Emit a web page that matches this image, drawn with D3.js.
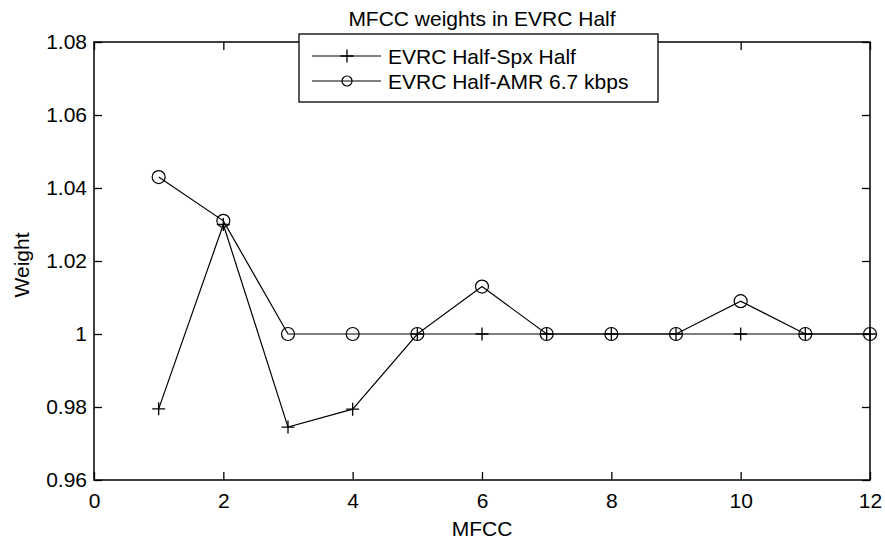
<!DOCTYPE html>
<html><head><meta charset="utf-8">
<script src="https://cdn.jsdelivr.net/npm/d3@7"></script>
<style>body{margin:0;background:#fff}svg{display:block}text{font-family:"Liberation Sans",Arial,sans-serif;fill:#000}</style>
</head><body><svg id="c" width="885" height="542"></svg>
<script>
const mfcc = [1,2,3,4,5,6,7,8,9,10,11,12];
const spxHalf = [0.9795,1.030,0.9745,0.9794,1,1,1,1,1,1,1,1];
const amr67 = [1.043,1.031,1,1,1,1.013,1,1,1,1.009,1,1];
const seriesNames = ["EVRC Half-Spx Half","EVRC Half-AMR 6.7 kbps"];
const xTicks = [0,2,4,6,8,10,12];
const yTicks = [0.96,0.98,1,1.02,1.04,1.06,1.08];
const title = "MFCC weights in EVRC Half";

const svg = d3.select("#c");
const L=94,R=870,T=42,B=480;
const x = d3.scaleLinear().domain([0,12]).range([L,R]);
const y = d3.scaleLinear().domain([0.96,1.08]).range([B,T]);
const fs = 21;

svg.append("rect").attr("x",L).attr("y",T).attr("width",R-L).attr("height",B-T)
 .attr("fill","none").attr("stroke","#000").attr("stroke-width",1.5);

const tl=8;
const axB = svg.append("g").attr("transform",`translate(0,${B})`).call(d3.axisBottom(x).tickValues(xTicks).tickSize(-tl).tickPadding(13).tickFormat(d3.format("d")));
const axT = svg.append("g").attr("transform",`translate(0,${T})`).call(d3.axisTop(x).tickValues(xTicks).tickSize(-tl).tickFormat(""));
const fmtY = d=> String(+d.toFixed(2));
const ayL = svg.append("g").attr("transform",`translate(${L},0)`).call(d3.axisLeft(y).tickValues(yTicks).tickSize(-tl).tickPadding(7).tickFormat(fmtY));
const ayR = svg.append("g").attr("transform",`translate(${R},0)`).call(d3.axisRight(y).tickValues(yTicks).tickSize(-tl).tickFormat(""));
[axB,axT,ayL,ayR].forEach(a=>{
  a.select(".domain").remove();
  a.selectAll("line").attr("stroke","#000").attr("stroke-width",1.3);
  a.selectAll("text").attr("font-size",fs).attr("font-family","Liberation Sans, Arial, sans-serif").attr("fill","#000");
});

const line = d3.line().x((d,i)=>x(mfcc[i])).y(d=>y(d));
svg.append("path").datum(spxHalf).attr("d",line).attr("fill","none").attr("stroke","#000").attr("stroke-width",1.2);
svg.append("path").datum(amr67).attr("d",line).attr("fill","none").attr("stroke","#000").attr("stroke-width",1.2);

function plus(sel,cx,cy,s){
  sel.append("path").attr("d",`M${cx-s},${cy}H${cx+s}M${cx},${cy-s}V${cy+s}`).attr("stroke","#000").attr("stroke-width",1.3).attr("fill","none");
}
function circ(sel,cx,cy,r){
  sel.append("circle").attr("cx",cx).attr("cy",cy).attr("r",r).attr("fill","none").attr("stroke","#000").attr("stroke-width",1.2);
}
const mk = svg.append("g");
spxHalf.forEach((v,i)=>plus(mk,x(mfcc[i]),y(v),6.5));
amr67.forEach((v,i)=>circ(mk,x(mfcc[i]),y(v),6.5));

svg.append("text").attr("x",(L+R)/2).attr("y",26).attr("text-anchor","middle").attr("font-size",fs).text(title);
svg.append("text").attr("x",(L+R)/2).attr("y",536).attr("text-anchor","middle").attr("font-size",fs).text("MFCC");
svg.append("text").attr("transform",`translate(29,265) rotate(-90)`).attr("text-anchor","middle").attr("font-size",fs).text("Weight");

const lg = svg.append("g");
lg.append("rect").attr("x",299).attr("y",34).attr("width",359).attr("height",68).attr("fill","#fff").attr("stroke","#000").attr("stroke-width",1.3);
const rows=[56,81];
rows.forEach((ry,i)=>{
  lg.append("line").attr("x1",312).attr("x2",381).attr("y1",ry).attr("y2",ry).attr("stroke","#000").attr("stroke-width",1.2);
  if(i===0) plus(lg,347,ry,6.5); else circ(lg,347,ry,5);
  lg.append("text").attr("x",388).attr("y",ry+7.5).attr("font-size",fs).text(seriesNames[i]);
});
</script></body></html>
